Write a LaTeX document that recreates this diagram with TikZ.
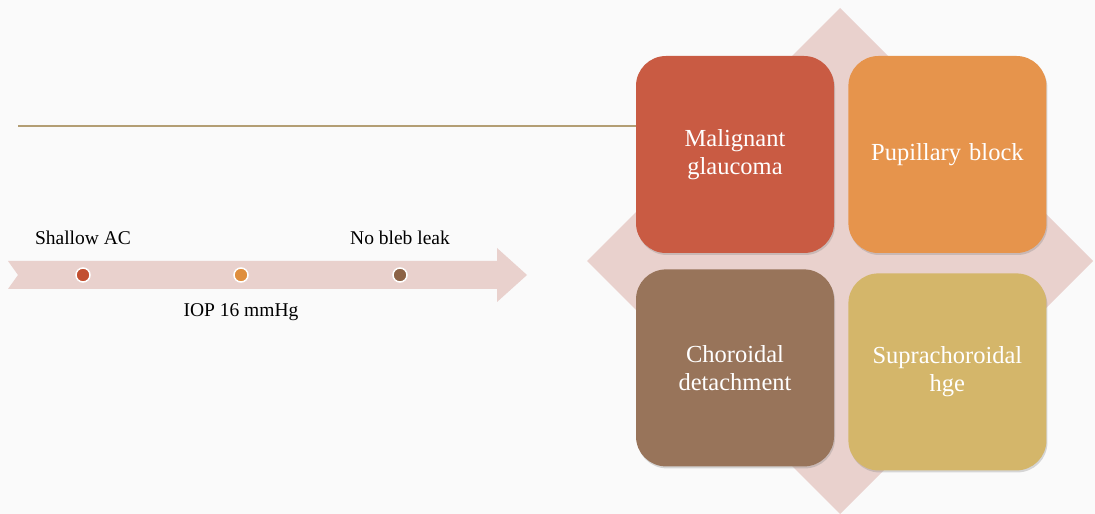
\documentclass[tikz,border=0pt]{standalone}
\usepackage{fontspec}
\setmainfont{Liberation Serif}
\usetikzlibrary{positioning,shadows}

\definecolor{slidebg}{HTML}{FAFAFA}
\definecolor{rulecol}{HTML}{B39E74}
\definecolor{pinkband}{HTML}{E9D1CD}
\definecolor{malcol}{HTML}{C95B43}
\definecolor{pupcol}{HTML}{E6944C}
\definecolor{chocol}{HTML}{98745A}
\definecolor{supcol}{HTML}{D4B66A}
\definecolor{dotred}{HTML}{C24F30}
\definecolor{dotorange}{HTML}{DF8E3D}
\definecolor{dotbrown}{HTML}{8C6245}

\begin{document}
\begin{tikzpicture}[x=1pt, y=1pt,
    tile/.style={rectangle, rounded corners=30pt, minimum width=198pt, minimum height=197pt,
                 inner sep=0pt, text=white, align=center, text width=185pt,
                 font=\fontsize{24.5}{28}\selectfont,
                 drop shadow={shadow xshift=1pt, shadow yshift=-2pt, opacity=0.3}},
    dot/.style={circle, draw=white, line width=1.5pt, minimum size=14pt, inner sep=0pt},
    tag/.style={inner sep=0pt, font=\fontsize{19.5}{23}\selectfont}]
  \useasboundingbox[fill=slidebg] (0,0) rectangle (1095,514);

  % diamond behind the tiles
  \fill[pinkband] (840,506) -- (1093,253) -- (840,0) -- (587,253) -- cycle;

  % timeline arrow
  \fill[pinkband] (8,253) -- (497,253) -- (497,266) -- (527,239) -- (497,212)
                  -- (497,225) -- (8,225) -- (18,239) -- cycle;

  \node[dot, fill=dotred]    (RedDot)    at (83,239)  {};
  \node[dot, fill=dotorange] (OrangeDot) at (241,239) {};
  \node[dot, fill=dotbrown]  (BrownDot)  at (400,239) {};

  \node[tag] (Shallow) [above=22pt of RedDot]    {Shallow AC};
  \node[tag] (IOP)     [below=21pt of OrangeDot] {IOP 16 mmHg};
  \node[tag] (Bleb)    [above=22pt of BrownDot]  {No bleb leak};

  % tiles
  \node[tile, fill=malcol] (Malignant) at (735,359.5) {Malignant\\glaucoma};
  \node[tile, fill=pupcol] (Pupillary) [right=14pt of Malignant] {Pupillary block};
  \node[tile, fill=chocol] (Choroidal) [below=16pt of Malignant] {Choroidal\\detachment};
  \node[tile, fill=supcol] (Supra)     [below=20pt of Pupillary] {Suprachoroidal\\hge};

  \coordinate (RuleStart) at (18,388);
  \draw[rulecol, line width=1.5pt] (RuleStart) -- (RuleStart -| Malignant.west);
\end{tikzpicture}
\end{document}
